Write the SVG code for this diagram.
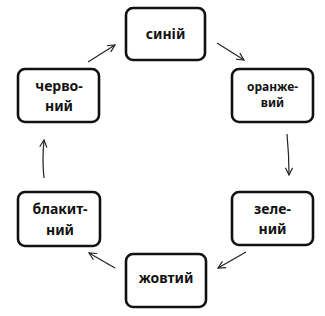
<svg xmlns="http://www.w3.org/2000/svg" width="325" height="316" viewBox="0 0 325 316">
<defs>
<style>
.box{fill:#fff;stroke:#111;stroke-width:2.6}
.t{font-family:"Noto Sans","Liberation Sans",sans-serif;font-weight:bold;font-size:14px;fill:#111;text-anchor:middle}
.s{font-size:12px}
.c{fill:none;stroke:#222;stroke-width:1.2}
</style>
<marker id="ah" viewBox="0 0 10 10" refX="9" refY="5" markerWidth="9" markerHeight="9" orient="auto" markerUnits="userSpaceOnUse">
<path d="M1,1 L9,5 L1,9" fill="none" stroke="#222" stroke-width="1.3"/>
</marker>
</defs>
<rect width="325" height="316" fill="#fff"/>
<g id="connectors">
<line class="c" x1="88" y1="62" x2="115" y2="45" marker-end="url(#ah)"/>
<line class="c" x1="217" y1="43" x2="244" y2="60" marker-end="url(#ah)"/>
<path class="c" d="M287,134 Q289,155 289,175" marker-end="url(#ah)"/>
<line class="c" x1="246" y1="252" x2="218" y2="268" marker-end="url(#ah)"/>
<line class="c" x1="115" y1="268" x2="89" y2="253" marker-end="url(#ah)"/>
<path class="c" d="M44,178 Q42,160 44,140" marker-end="url(#ah)"/>
</g>
<g id="blue">
<rect class="box" x="126" y="8" width="79" height="52" rx="7"/>
<text class="t" x="165.5" y="39" font-size="15">синій</text>
</g>
<g id="orange">
<rect class="box" x="232" y="69" width="81" height="53" rx="7"/>
<text class="t s" x="272.5" y="91">оранже-</text>
<text class="t s" x="272.5" y="107">вий</text>
</g>
<g id="green">
<rect class="box" x="232" y="192" width="81" height="53" rx="7"/>
<text class="t" x="272.5" y="214">зеле-</text>
<text class="t" x="272.5" y="234">ний</text>
</g>
<g id="yellow">
<rect class="box" x="126" y="254" width="80" height="53" rx="7"/>
<text class="t" x="166" y="283">жовтий</text>
</g>
<g id="lightblue">
<rect class="box" x="18" y="192" width="82" height="54" rx="7"/>
<text class="t" x="60" y="214">блакит-</text>
<text class="t" x="60" y="235">ний</text>
</g>
<g id="red">
<rect class="box" x="18" y="69" width="81" height="53" rx="7"/>
<text class="t" x="59" y="91">черво-</text>
<text class="t" x="59" y="111">ний</text>
</g>
</svg>
